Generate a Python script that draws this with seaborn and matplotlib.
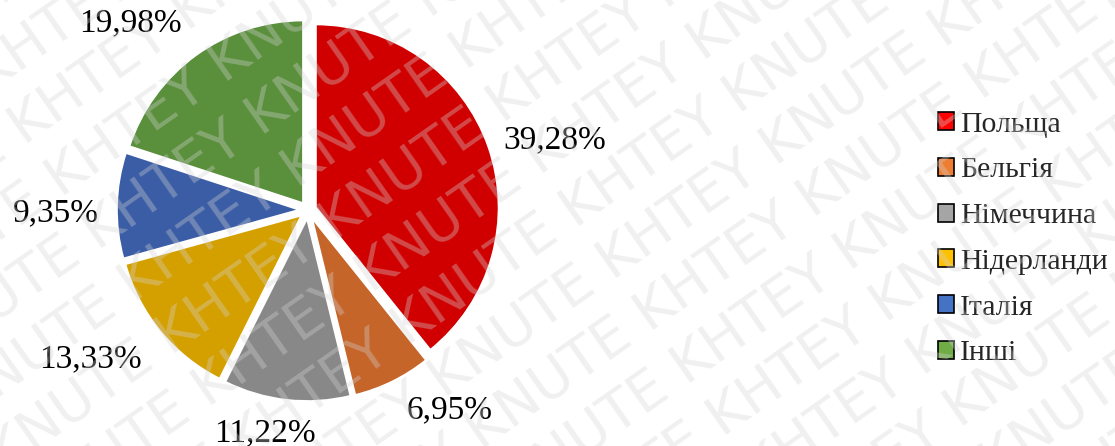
import numpy as np
import matplotlib
matplotlib.use("Agg")
import matplotlib.pyplot as plt
from matplotlib.patches import Patch
import seaborn as sns

# data
countries = ["Польща", "Бельгія", "Німеччина", "Нідерланди", "Італія", "Інші"]
shares = [39.28, 6.95, 11.22, 13.33, 9.35, 19.98]
share_labels = ["39,28%", "6,95%", "11,22%", "13,33%", "9,35%", "19,98%"]

# colours: darker shades in the pie, brighter in the legend (as in the source)
pie_colors = ["#D00000", "#C5652A", "#888888", "#D4A000", "#3A5DA5", "#5A8F3C"]
legend_colors = ["#FF0000", "#ED7D31", "#A5A5A5", "#FFC000", "#4472C4", "#70AD47"]

# label placement: (distance in radii, angle nudge in degrees)
label_pos = [(1.40, -3.5), (1.34, 9), (1.24, -4.5), (1.44, -5), (1.38, 2), (1.41, 7.5)]

sns.set_theme(style="white")
plt.rcParams["font.family"] = ["Liberation Serif", "DejaVu Serif"]

W, H = 1115, 446
fig = plt.figure(figsize=(W / 100, H / 100), dpi=100)

R = 183          # pie radius in px
cx, cy = 308, H - 210
k = 1.6
side = 2 * k * R
ax = fig.add_axes([(cx - side / 2) / W, (cy - side / 2) / H, side / W, side / H])

wedges, _ = ax.pie(shares, colors=pie_colors, startangle=90, counterclock=False,
                   explode=[0.045] * len(shares),
                   wedgeprops=dict(edgecolor="white", linewidth=1.5))
ax.set_xlim(-k, k)
ax.set_ylim(-k, k)
ax.set_aspect("equal")
ax.axis("off")

for w, lab, (dist, nudge) in zip(wedges, share_labels, label_pos):
    ang = np.deg2rad((w.theta1 + w.theta2) / 2 + nudge)
    ax.text(dist * np.cos(ang), dist * np.sin(ang), lab, ha="center", va="center",
            fontsize=24, color="black")

handles = [Patch(facecolor=c, edgecolor="black", linewidth=1.2) for c in legend_colors]
fig.legend(handles, countries, loc="center left", bbox_to_anchor=(926 / W, 1 - 239 / H),
           frameon=False, fontsize=21.5, handlelength=0.55, handleheight=0.55,
           handletextpad=0.2, labelspacing=0.66, borderaxespad=0)

# faint diagonal watermark
theta = np.deg2rad(35)
wm = " ".join(["KNUTE KHTEY"] * 7)
for i in range(-8, 9):
    d = i * 64
    x = W / 2 - d * np.sin(theta)
    y = H / 2 + d * np.cos(theta)
    fig.text(x / W, y / H, wm, rotation=35, rotation_mode="anchor", fontsize=40,
             family="DejaVu Sans", color="#d4d4d4", alpha=0.35,
             ha="center", va="center", zorder=10)

fig.savefig("out.png", dpi=100)
